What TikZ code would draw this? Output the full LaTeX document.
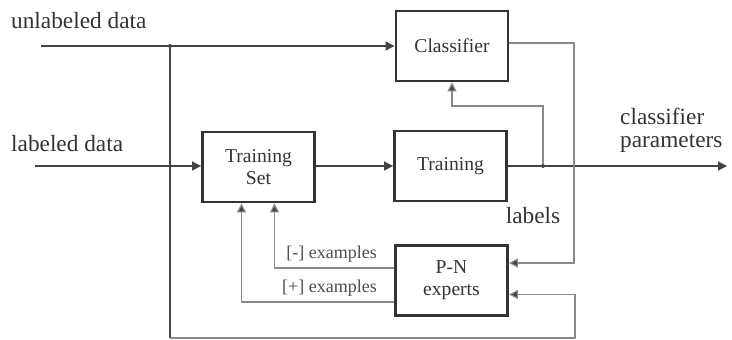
\documentclass[tikz,border=0pt]{standalone}
\usepackage{fontspec}
\setmainfont{Liberation Serif}
\usetikzlibrary{arrows.meta,calc}
\definecolor{maincol}{HTML}{444444}
\definecolor{fbcol}{HTML}{8A8A8A}
\definecolor{boxcol}{HTML}{333333}
\begin{document}
\begin{tikzpicture}[x=1pt,y=-1pt,
  blk/.style={draw=boxcol,line width=2.9pt,minimum width=112pt,minimum height=70pt,inner sep=0pt,align=center,font=\fontsize{19.6}{22}\selectfont,text=black!80},
  main/.style={draw=maincol,line width=1.2pt,-{Triangle[length=9pt,width=9pt]}},
  mainl/.style={draw=maincol,line width=1.2pt},
  fb/.style={draw=fbcol,line width=1.2pt,-{Triangle[length=9pt,width=9pt,fill=maincol]}},
  big/.style={font=\fontsize{23.3}{23}\selectfont,text=black!80,inner sep=0pt},
  small/.style={font=\fontsize{18}{19}\selectfont,text=black!70,inner sep=0pt},
  dot/.style={circle,fill=maincol,inner sep=0pt,minimum size=4pt}]
\useasboundingbox (0,0) rectangle (732,340);
\node[blk] (cls) at (452,46) {Classifier};
\node[blk] (trn) at (450.5,166) {Training};
\node[blk] (ts) at (258.5,167) {Training\\Set};
\node[blk] (pn) at (451.5,280.5) {P-N\\experts};
\node[big,anchor=base west] (ul) at (11,28) {unlabeled data};
\node[big,anchor=base west] (ld) at (11,151) {labeled data};
\node[big,anchor=west,align=left] (cp) at (620,130) {classifier\\parameters};
\node[big,anchor=base] (lb) at (533,223) {labels};
\node[small,anchor=base east] (neg) at (377,258) {[-] examples};
\node[small,anchor=base east] (pos) at (377,292) {[+] examples};
\coordinate (u0) at (41,46);
\node[dot] (j1) at (170,46) {};
\coordinate (l0) at (35,166);
\node[dot] (j2) at (543,166) {};
\coordinate (out) at (727,166);
\coordinate (bot) at (575,338);
\draw[main] (u0) -- (cls);
\draw[main] (l0) -- (l0 -| ts.west);
\draw[main] (ts.east |- trn) -- (trn);
\draw[main] (trn) -- (out);
\draw[mainl] (j1) -- (j1 |- bot);
\draw[fb] (j1 |- bot) -- (bot) |- ([yshift=-14pt]pn.east);
\draw[fb] (j2) -- (543,106) -| (cls.south);
\draw[fb] ([yshift=3pt]cls.east) -| (574,263) -- ([yshift=17.5pt]pn.east);
\draw[fb] ([yshift=12.5pt]pn.west) -| ([xshift=16pt]ts.south);
\draw[fb] ([yshift=-21.5pt]pn.west) -| ([xshift=-17pt]ts.south);
\end{tikzpicture}
\end{document}
